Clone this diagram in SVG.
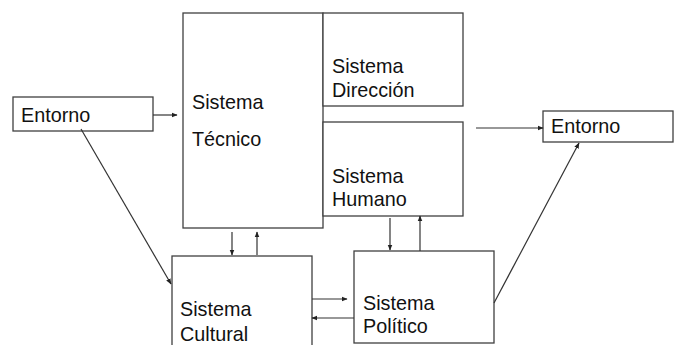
<svg xmlns="http://www.w3.org/2000/svg" width="674" height="345" viewBox="0 0 674 345">
<style>
.box{fill:#fff;stroke:#404040;stroke-width:1.3}
.t{font-family:"Liberation Sans",Arial,sans-serif;font-size:19.8px;fill:#111}
.c{stroke:#333;stroke-width:1.2;fill:none;marker-end:url(#ah)}
</style>
<defs>
<marker id="ah" viewBox="0 0 10 10" refX="9" refY="5" markerWidth="6" markerHeight="6" markerUnits="userSpaceOnUse" orient="auto">
<path d="M0,1 L10,5 L0,9 z" fill="#222"/>
</marker>
</defs>
<rect width="674" height="345" fill="#fff"/>
<g id="entorno-left"><rect class="box" x="13" y="97" width="140" height="34"/><text class="t" x="21" y="122">Entorno</text></g>
<g id="sistema-tecnico"><rect class="box" x="183" y="13" width="140" height="215"/><text class="t" x="192" y="109">Sistema</text><text class="t" x="192" y="146">Técnico</text></g>
<g id="sistema-direccion"><rect class="box" x="323" y="13" width="140" height="93"/><text class="t" x="332" y="73">Sistema</text><text class="t" x="332" y="97">Dirección</text></g>
<g id="sistema-humano"><rect class="box" x="323" y="122" width="140" height="94"/><text class="t" x="332" y="183">Sistema</text><text class="t" x="332" y="206">Humano</text></g>
<g id="entorno-right"><rect class="box" x="543" y="111" width="130" height="31"/><text class="t" x="551" y="133">Entorno</text></g>
<g id="sistema-cultural"><rect class="box" x="172" y="256" width="140" height="100"/><text class="t" x="180" y="316">Sistema</text><text class="t" x="180" y="341">Cultural</text></g>
<g id="sistema-politico"><rect class="box" x="354" y="251" width="140" height="92"/><text class="t" x="363" y="310">Sistema</text><text class="t" x="363" y="333">Político</text></g>
<g id="connectors">
<line class="c" x1="153" y1="115" x2="177" y2="115"/>
<line class="c" x1="476" y1="128" x2="543" y2="128"/>
<line class="c" x1="81" y1="129" x2="171" y2="284"/>
<line class="c" x1="494" y1="303" x2="579" y2="143"/>
<line class="c" x1="232" y1="232" x2="232" y2="255"/>
<line class="c" x1="257" y1="255" x2="257" y2="232"/>
<line class="c" x1="312" y1="299" x2="347" y2="299"/>
<line class="c" x1="354" y1="318" x2="312" y2="318"/>
<line class="c" x1="390" y1="218" x2="390" y2="250"/>
<line class="c" x1="420" y1="251" x2="420" y2="216"/>
</g>
</svg>
